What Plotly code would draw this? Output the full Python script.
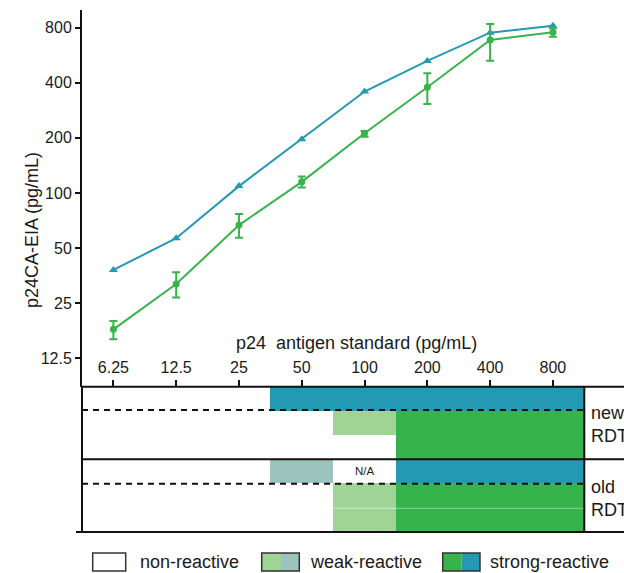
import plotly.graph_objects as go

# ---------------- data ----------------
categories = ["6.25", "12.5", "25", "50", "100", "200", "400", "800"]
blue_values = [38.0, 56.6, 109, 196.5, 358, 526, 751, 820]
green_mean = [18.0, 31.8, 66.8, 115, 212, 378, 685, 755]
green_upper = [20.0, 36.9, 76.8, 123, 218, 451, 838, 794]
green_lower = [15.9, 26.9, 57.0, 107, 203, 306, 528, 714]
y_ticks = [12.5, 25, 50, 100, 200, 400, 800]
y_tick_labels = ["12.5", "25", "50", "100", "200", "400", "800"]

# RDT read-out codes: 0 none, 1 weak (green), 2 weak (blue/grey), 3 strong green, 4 strong blue
rdt_rows = [
    [0, 0, 0, 4, 4, 4, 4, 4],   # new RDT, blue line
    [0, 0, 0, 0, 1, 3, 3, 3],   # new RDT, green line
    [0, 0, 0, 0, 0, 3, 3, 3],
    [0, 0, 0, 2, 0, 4, 4, 4],   # old RDT, blue line
    [0, 0, 0, 0, 1, 3, 3, 3],   # old RDT, green line
    [0, 0, 0, 0, 1, 3, 3, 3],
]
legend_labels = ["non-reactive", "weak-reactive", "strong-reactive"]

W, H = 624, 573
def px(x):
    return x / W
def py(y):
    return 1 - y / H

BLUE_LINE = "#2499b6"
GREEN_LINE = "#38b44a"
C_WHITE = "#ffffff"
C_LG = "#a0d396"
C_TG = "#9bc4bf"
C_SG = "#36b34a"
C_SB = "#2399b3"
FONT = "Liberation Sans, Arial, sans-serif"

xs = list(range(len(categories)))
err_plus = [u - m for u, m in zip(green_upper, green_mean)]
err_minus = [m - l for m, l in zip(green_mean, green_lower)]

fig = go.Figure()
fig.add_trace(go.Scatter(
    x=xs, y=blue_values, mode="lines+markers",
    line=dict(color=BLUE_LINE, width=2),
    marker=dict(symbol="triangle-up", size=8, color=BLUE_LINE),
    xaxis="x", yaxis="y", showlegend=False, hoverinfo="skip"))
fig.add_trace(go.Scatter(
    x=xs, y=green_mean, mode="lines+markers",
    line=dict(color=GREEN_LINE, width=2),
    marker=dict(symbol="circle", size=7, color=GREEN_LINE),
    error_y=dict(type="data", array=err_plus, arrayminus=err_minus,
                 color=GREEN_LINE, thickness=2, width=4),
    xaxis="x", yaxis="y", showlegend=False, hoverinfo="skip"))

fig.add_trace(go.Heatmap(
    z=rdt_rows, x=xs, y=list(range(len(rdt_rows))),
    zmin=0, zmax=4,
    colorscale=[[0, C_WHITE], [0.2, C_WHITE], [0.2, C_LG], [0.4, C_LG],
                [0.4, C_TG], [0.6, C_TG], [0.6, C_SG], [0.8, C_SG],
                [0.8, C_SB], [1, C_SB]],
    showscale=False, hoverinfo="skip", xaxis="x2", yaxis="y2"))

x_dom = [px(82), px(584.3)]
top_main, bot_main = 10, 386.7
bot_heat = 532

fig.update_layout(
    width=W, height=H,
    margin=dict(l=0, r=0, t=0, b=0, pad=0),
    paper_bgcolor="white", plot_bgcolor="rgba(0,0,0,0)",
    font=dict(family=FONT, color="#1a1a1a"),
    xaxis=dict(domain=x_dom, range=[-0.5, 7.5], visible=False, anchor="y"),
    yaxis=dict(domain=[py(bot_main), py(top_main)], type="log",
               range=[0.942, 2.9993], anchor="x",
               tickmode="array", tickvals=y_ticks, ticktext=y_tick_labels,
               ticks="outside", ticklen=5, tickwidth=2, tickcolor="#111",
               showline=True, linewidth=2, linecolor="#111",
               showgrid=False, zeroline=False,
               tickfont=dict(size=16, family=FONT, color="#1a1a1a")),
    xaxis2=dict(domain=x_dom, range=[-0.5, 7.5], anchor="y2", side="top",
                tickmode="array", tickvals=xs, ticktext=categories,
                ticks="outside", ticklen=6, tickwidth=2, tickcolor="#111",
                showline=False, showgrid=False, zeroline=False,
                tickfont=dict(size=16, family=FONT, color="#1a1a1a")),
    yaxis2=dict(domain=[py(bot_heat), py(bot_main)], range=[5.5, -0.5],
                anchor="x2", visible=False),
)

shapes = []
def line(x0, y0, x1, y1, dash="solid", width=2, color="#111"):
    shapes.append(dict(type="line", xref="paper", yref="paper",
                       x0=px(x0), y0=py(y0), x1=px(x1), y1=py(y1),
                       line=dict(color=color, width=width, dash=dash)))

# faint seam inside the old RDT green block
line(332.7, 508.3, 584, 508.3, width=1, color="rgba(255,255,255,0.45)")
# box borders
line(82, bot_main, 624, bot_main)
line(82, 459.3, 624, 459.3)
line(76, bot_heat, 624, bot_heat)
line(82, bot_main, 82, bot_heat)
line(584.3, bot_main, 584.3, bot_heat)
line(82, 410, 584, 410, dash="6px,5px")
line(82, 483.7, 584, 483.7, dash="6px,5px")

def rect(x0, y0, x1, y1, fill, outline=None):
    shapes.append(dict(type="rect", xref="paper", yref="paper",
                       x0=px(x0), y0=py(y0), x1=px(x1), y1=py(y1),
                       fillcolor=fill,
                       line=dict(color=outline or "rgba(0,0,0,0)",
                                 width=1.5 if outline else 0)))

# legend boxes
ly0, ly1 = 553, 571
rect(92.7, ly0, 125.7, ly1, C_WHITE, "#333")
rect(261.7, ly0, 281, ly1, C_LG)
rect(281, ly0, 299.3, ly1, C_TG)
rect(261.7, ly0, 299.3, ly1, "rgba(0,0,0,0)", "#333")
rect(442.7, ly0, 461.7, ly1, C_SG)
rect(461.7, ly0, 480, ly1, C_SB)
rect(442.7, ly0, 480, ly1, "rgba(0,0,0,0)", "#333")

annotations = [
    dict(text="p24CA-EIA (pg/mL)", textangle=-90, x=px(20), y=py(230),
         xref="paper", yref="paper", showarrow=False,
         font=dict(size=18, family=FONT)),
    dict(text="p24\u00a0 antigen standard (pg/mL)", x=px(356), y=py(343),
         xref="paper", yref="paper", showarrow=False,
         font=dict(size=18, family=FONT)),
    dict(text="new<br>RDT", x=px(589), y=py(424), xanchor="left",
         yanchor="middle", align="left", xref="paper", yref="paper",
         showarrow=False, font=dict(size=18, family=FONT)),
    dict(text="old<br>RDT", x=px(589), y=py(498.5), xanchor="left",
         yanchor="middle", align="left", xref="paper", yref="paper",
         showarrow=False, font=dict(size=18, family=FONT)),
    dict(text="N/A", x=4, y=3, xref="x2", yref="y2", showarrow=False,
         font=dict(size=11.5, family=FONT)),
]
legend_x = [138.3, 307.5, 488.3]
for lab, lx in zip(legend_labels, legend_x):
    annotations.append(dict(text=lab, x=px(lx), y=py(562), xanchor="left",
                            yanchor="middle", xref="paper", yref="paper",
                            showarrow=False, font=dict(size=18, family=FONT)))

fig.update_layout(shapes=shapes, annotations=annotations)
fig.write_html(
    "out.html",
    config={"displayModeBar": False, "staticPlot": True},
    post_script=("document.documentElement.style.overflow='hidden';"
                 "document.body.style.margin='0';"
                 "document.body.style.overflow='hidden';"),
)
